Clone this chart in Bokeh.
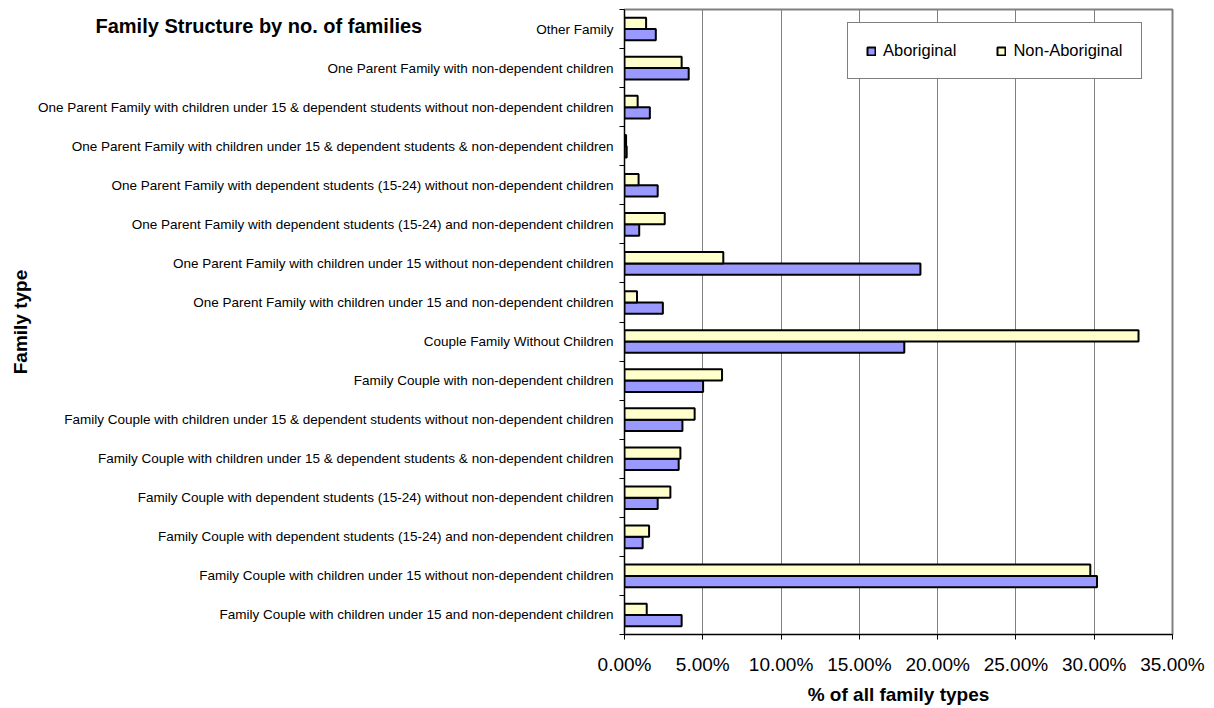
import numpy as np
from bokeh.plotting import figure
from bokeh.models import (ColumnDataSource, FixedTicker, NumeralTickFormatter,
                          Legend, LegendItem, Title)
from bokeh.embed import file_html
from bokeh.resources import INLINE

# ---- data (top to bottom as shown) ----
categories = [
    "Other Family",
    "One Parent Family with non-dependent children",
    "One Parent Family with children under 15 & dependent students without non-dependent children",
    "One Parent Family with children under 15 & dependent students & non-dependent children",
    "One Parent Family with dependent students (15-24) without non-dependent children",
    "One Parent Family with dependent students (15-24) and non-dependent children",
    "One Parent Family with children under 15 without non-dependent children",
    "One Parent Family with children under 15 and non-dependent children",
    "Couple Family Without Children",
    "Family Couple with non-dependent children",
    "Family Couple with children under 15 & dependent students without non-dependent children",
    "Family Couple with children under 15 & dependent students & non-dependent children",
    "Family Couple with dependent students (15-24) without non-dependent children",
    "Family Couple with dependent students (15-24) and non-dependent children",
    "Family Couple with children under 15 without non-dependent children",
    "Family Couple with children under 15 and non-dependent children",
]
aboriginal = [2.00, 4.10, 1.62, 0.14, 2.12, 0.94, 18.90, 2.45, 17.87, 5.02, 3.70, 3.46, 2.12, 1.16, 30.18, 3.65]
non_aboriginal = [1.38, 3.65, 0.84, 0.10, 0.90, 2.57, 6.31, 0.80, 32.83, 6.23, 4.48, 3.57, 2.93, 1.57, 29.75, 1.42]
x_ticks = [0.0, 0.05, 0.10, 0.15, 0.20, 0.25, 0.30, 0.35]

FONT = "Liberation Sans"
n = len(categories)
centers = [n - 1 - i + 0.5 for i in range(n)]
bh = 0.29

src_ab = ColumnDataSource(dict(y=[c - bh / 2 for c in centers],
                               right=[v / 100 for v in aboriginal]))
src_na = ColumnDataSource(dict(y=[c + bh / 2 for c in centers],
                               right=[v / 100 for v in non_aboriginal]))

p = figure(width=1214, height=708, output_backend="svg", toolbar_location=None,
           x_range=(0, 0.35), y_range=(0, n),
           min_border_left=624, min_border_right=42, min_border_top=9, min_border_bottom=74)

r_ab = p.hbar(y="y", left=0, right="right", height=bh, source=src_ab,
              fill_color="#9999FF", line_color="black", line_width=2)
r_na = p.hbar(y="y", left=0, right="right", height=bh, source=src_na,
              fill_color="#FFFFCC", line_color="black", line_width=2)

# frame
p.outline_line_color = "#808080"
p.outline_line_width = 2
p.background_fill_color = "white"
p.border_fill_color = "white"

# x axis
xa = p.xaxis[0]
xa.ticker = FixedTicker(ticks=x_ticks)
xa.formatter = NumeralTickFormatter(format="0.00%")
xa.major_tick_out = 5
xa.major_tick_in = 0
xa.minor_tick_out = 0
xa.minor_tick_in = 0
xa.axis_line_color = "black"
xa.major_tick_line_color = "black"
xa.major_label_text_font = FONT
xa.major_label_text_font_size = "19px"
xa.major_label_text_color = "black"
xa.major_label_standoff = 14
xa.axis_label = "% of all family types"
xa.axis_label_text_font = FONT
xa.axis_label_text_font_size = "19px"
xa.axis_label_text_font_style = "bold"
xa.axis_label_text_color = "black"
xa.axis_label_standoff = 6

# y axis
ya = p.yaxis[0]
ya.ticker = FixedTicker(ticks=centers, minor_ticks=list(range(n + 1)))
ya.major_label_overrides = {c: lab for c, lab in zip(centers, categories)}
ya.major_tick_out = 0
ya.major_tick_in = 0
ya.minor_tick_out = 5
ya.minor_tick_in = 0
ya.minor_tick_line_color = "black"
ya.axis_line_color = "black"
ya.major_label_text_font = FONT
ya.major_label_text_font_size = "13.5px"
ya.major_label_text_color = "black"
ya.major_label_standoff = 6
ya.axis_label = "Family type"
ya.axis_label_text_font = FONT
ya.axis_label_text_font_size = "19px"
ya.axis_label_text_font_style = "bold"
ya.axis_label_text_color = "black"
ya.axis_label_standoff = 4

# grid
p.xgrid.grid_line_color = "#808080"
p.xgrid.grid_line_width = 1
p.ygrid.grid_line_color = None

# legend
legend = Legend(items=[LegendItem(label="Aboriginal", renderers=[r_ab]),
                       LegendItem(label="Non-Aboriginal", renderers=[r_na])],
                orientation="horizontal", location=(223, 555))
legend.label_text_font = FONT
legend.label_text_font_size = "16.5px"
legend.label_text_color = "black"
legend.glyph_width = 10
legend.glyph_height = 10
legend.label_standoff = 7
legend.spacing = 40
legend.padding = 18
legend.margin = 0
legend.border_line_color = "black"
legend.border_line_width = 1
legend.background_fill_color = "white"
legend.background_fill_alpha = 1
p.add_layout(legend)

# chart title (negative standoff so that it takes no room above the frame)
title = Title(text="Family Structure by no. of families", align="left", offset=-529,
              standoff=-55, vertical_align="bottom",
              text_font=FONT, text_font_size="20px", text_font_style="bold",
              text_color="black")
p.add_layout(title, "above")

open("out.html", "w").write(file_html(p, INLINE))
